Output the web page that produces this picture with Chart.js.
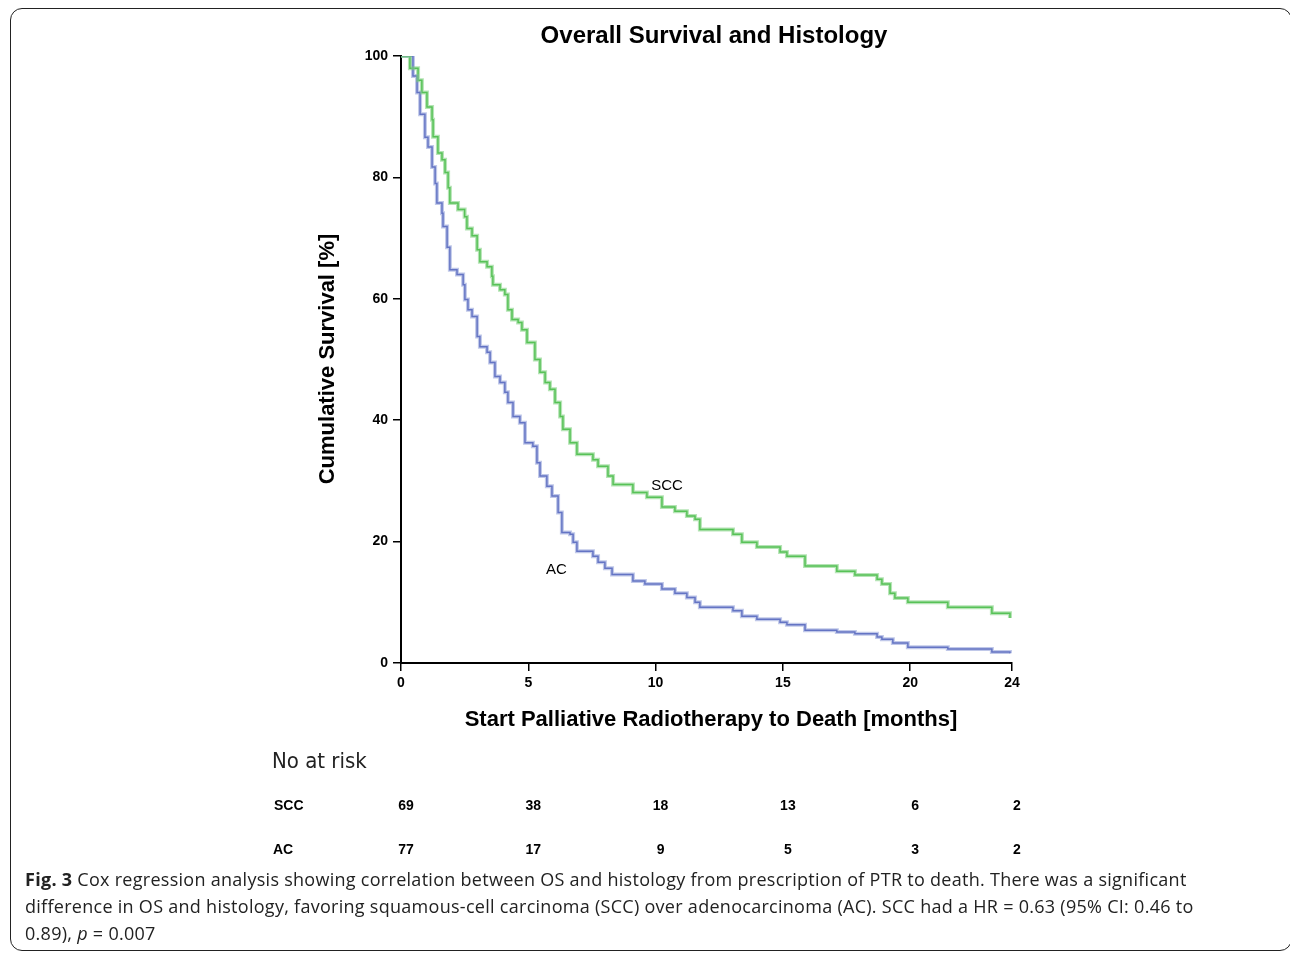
<!DOCTYPE html>
<html>
<head>
<meta charset="utf-8">
<script src="https://cdn.jsdelivr.net/npm/chart.js@4"></script>
<style>
  body { margin: 0; background: #fff; width: 1290px; height: 954px; overflow: hidden; position: relative; }
  #frame { position: absolute; left: 10px; top: 8px; width: 1282px; height: 943px; border: 1.5px solid #222; border-radius: 12px; box-sizing: border-box; }
  #chart { position: absolute; left: 0; top: 0; }
  #caption { position: absolute; left: 25px; top: 866px; font-family: "Open Sans", sans-serif; font-size: 18px; line-height: 27px; color: #222; white-space: nowrap; letter-spacing: 0.28px; }
</style>
</head>
<body>
<div id="frame"></div>
<canvas id="chart" width="1290" height="954"></canvas>
<div id="caption"><b>Fig. 3</b> Cox regression analysis showing correlation between OS and histology from prescription of PTR to death. There was a significant<br>difference in OS and histology, favoring squamous-cell carcinoma (SCC) over adenocarcinoma (AC). SCC had a HR = 0.63 (95% CI: 0.46 to<br>0.89), <i>p</i> = 0.007</div>
<script>
// Kaplan-Meier steps: months, survival [%]
const sccMonths = [0, 0.35, 0.67, 0.82, 1.02, 1.22, 1.26, 1.45, 1.61, 1.73, 1.85, 1.92, 2.24, 2.5, 2.59, 2.79, 2.99, 3.1, 3.38, 3.57, 3.61, 3.89, 4.08, 4.2, 4.36, 4.6, 4.75, 4.95, 5.26, 5.46, 5.66, 5.85, 6.05, 6.25, 6.36, 6.64, 6.91, 7.54, 7.74, 8.13, 8.33, 9.11, 9.66, 10.25, 10.76, 11.23, 11.55, 11.74, 13.04, 13.39, 13.98, 14.89, 15.16, 15.87, 17.12, 17.83, 18.7, 18.89, 19.21, 19.4, 19.91, 21.48, 23.21, 23.92];
const sccSurvival = [100, 98, 96, 94, 91.6, 89.5, 86.7, 84, 82.9, 80.8, 78.3, 75.8, 74.7, 73.5, 71.6, 70.4, 68.1, 66.1, 65.3, 63.7, 62.3, 61.5, 60.7, 58.2, 56.6, 56.1, 54.9, 52.8, 50, 47.9, 46.2, 45.1, 42.9, 40.6, 38.5, 36.3, 34.4, 33.5, 32.4, 30.8, 29.4, 28.1, 27.3, 25.7, 25, 24.2, 23.7, 22, 21.2, 19.9, 19.1, 18.3, 17.6, 16, 15.1, 14.5, 13.8, 13, 11.5, 10.7, 10, 9.2, 8.2, 7.4];

const acMonths = [0, 0.47, 0.63, 0.75, 0.94, 1.06, 1.22, 1.34, 1.41, 1.61, 1.65, 1.81, 1.92, 2.2, 2.44, 2.51, 2.63, 2.79, 2.99, 3.1, 3.38, 3.5, 3.69, 3.89, 4.08, 4.2, 4.4, 4.67, 4.87, 5.18, 5.34, 5.46, 5.73, 5.93, 6.17, 6.32, 6.64, 6.76, 6.91, 7.54, 7.74, 8.01, 8.29, 9.11, 9.58, 10.25, 10.76, 11.23, 11.55, 11.74, 13.04, 13.39, 13.98, 14.89, 15.16, 15.87, 17.12, 17.83, 18.7, 18.89, 19.32, 19.91, 21.48, 23.21, 23.92];
const acSurvival = [100, 96.7, 94, 90.4, 86.6, 85, 81.7, 79, 75.8, 74.1, 71.9, 68.5, 64.8, 64, 62.3, 59.9, 58.2, 57.1, 53.8, 52.1, 51.2, 49.5, 47.2, 46.2, 44.6, 42.9, 40.6, 39.6, 36.3, 35.7, 33, 30.8, 29.1, 27.5, 24.8, 21.5, 21.2, 19.9, 18.4, 17.6, 16.6, 15.6, 14.6, 13.5, 13, 12.2, 11.5, 10.8, 10, 9.2, 8.6, 7.7, 7.2, 6.7, 6.3, 5.4, 5.1, 4.8, 4.3, 3.9, 3.3, 2.6, 2.3, 1.8, 1.6];

const xTicks = [0, 5, 10, 15, 20, 24];
const riskMonths = [0, 5, 10, 15, 20, 24];
const sccAtRisk = [69, 38, 18, 13, 6, 2];
const acAtRisk = [77, 17, 9, 5, 3, 2];

function toPoints(xs, ys) {
  return xs.map((x, i) => ({ x: x, y: ys[i] }));
}

const axisFont = { family: "'Liberation Sans', Arial, sans-serif", size: 14, weight: "bold" };

const textPlugin = {
  id: "texts",
  afterDraw(chart) {
    const c = chart.ctx;
    const x = chart.scales.x;
    const y = chart.scales.y;
    c.save();
    c.fillStyle = "#000";
    c.textAlign = "center";
    c.textBaseline = "middle";

    c.font = "bold 24px 'Liberation Sans', Arial, sans-serif";
    c.fillText("Overall Survival and Histology", 714, 36);

    c.font = "bold 22px 'Liberation Sans', Arial, sans-serif";
    c.fillText("Start Palliative Radiotherapy to Death [months]", 711, 720);
    c.save();
    c.translate(328, 359);
    c.rotate(-Math.PI / 2);
    c.fillText("Cumulative Survival [%]", 0, 0);
    c.restore();

    // curve labels
    c.font = "15px 'Liberation Sans', Arial, sans-serif";
    c.fillText("SCC", x.getPixelForValue(10.45), y.getPixelForValue(29.2));
    c.fillText("AC", x.getPixelForValue(6.1), y.getPixelForValue(15.3));

    // number at risk table
    c.textAlign = "left";
    c.font = "22px 'DejaVu Sans Condensed', 'DejaVu Sans', sans-serif";
    c.fillStyle = "#222";
    c.fillText("No at risk", 272, 762);
    c.fillStyle = "#000";
    c.font = "bold 14px 'Liberation Sans', Arial, sans-serif";
    c.fillText("SCC", 274, 806);
    c.fillText("AC", 273, 850);
    c.textAlign = "center";
    riskMonths.forEach((m, i) => {
      const px = x.getPixelForValue(m) + 5;
      c.fillText(String(sccAtRisk[i]), px, 806);
      c.fillText(String(acAtRisk[i]), px, 850);
    });
    c.restore();
  }
};

const ctx = document.getElementById("chart").getContext("2d");

new Chart(ctx, {
  type: "line",
  data: {
    datasets: [
      { label: "SCC halo", data: toPoints(sccMonths, sccSurvival), borderColor: "rgba(120,205,120,0.55)", borderWidth: 4, stepped: true, pointRadius: 0, fill: false },
      { label: "AC halo", data: toPoints(acMonths, acSurvival), borderColor: "rgba(140,155,215,0.55)", borderWidth: 4, stepped: true, pointRadius: 0, fill: false },
      { label: "SCC", data: toPoints(sccMonths, sccSurvival), borderColor: "#2fb32f", borderWidth: 1.5, stepped: true, pointRadius: 0, fill: false },
      { label: "AC", data: toPoints(acMonths, acSurvival), borderColor: "#3446ad", borderWidth: 1.5, stepped: true, pointRadius: 0, fill: false }
    ]
  },
  options: {
    responsive: false,
    animation: false,
    layout: { padding: { left: 0, right: 278, top: 56, bottom: 251 } },
    plugins: {
      legend: { display: false },
      title: { display: false },
      tooltip: { enabled: false }
    },
    scales: {
      x: {
        type: "linear",
        min: 0,
        max: 24,
        afterFit: function (scale) { scale.height = 40; },
        afterBuildTicks: function (scale) { scale.ticks = xTicks.map(v => ({ value: v })); },
        grid: { drawOnChartArea: false, drawTicks: true, tickLength: 8, color: "#000", lineWidth: 1.5 },
        border: { display: true, color: "#000", width: 2 },
        ticks: { font: axisFont, color: "#000", padding: 4, maxRotation: 0 }
      },
      y: {
        min: 0,
        max: 100,
        afterFit: function (scale) { scale.width = 401; },
        grid: { drawOnChartArea: false, drawTicks: true, tickLength: 8, color: "#000", lineWidth: 1.5 },
        border: { display: true, color: "#000", width: 2 },
        ticks: { stepSize: 20, font: axisFont, color: "#000", padding: 5 }
      }
    }
  },
  plugins: [textPlugin]
});
</script>
</body>
</html>
